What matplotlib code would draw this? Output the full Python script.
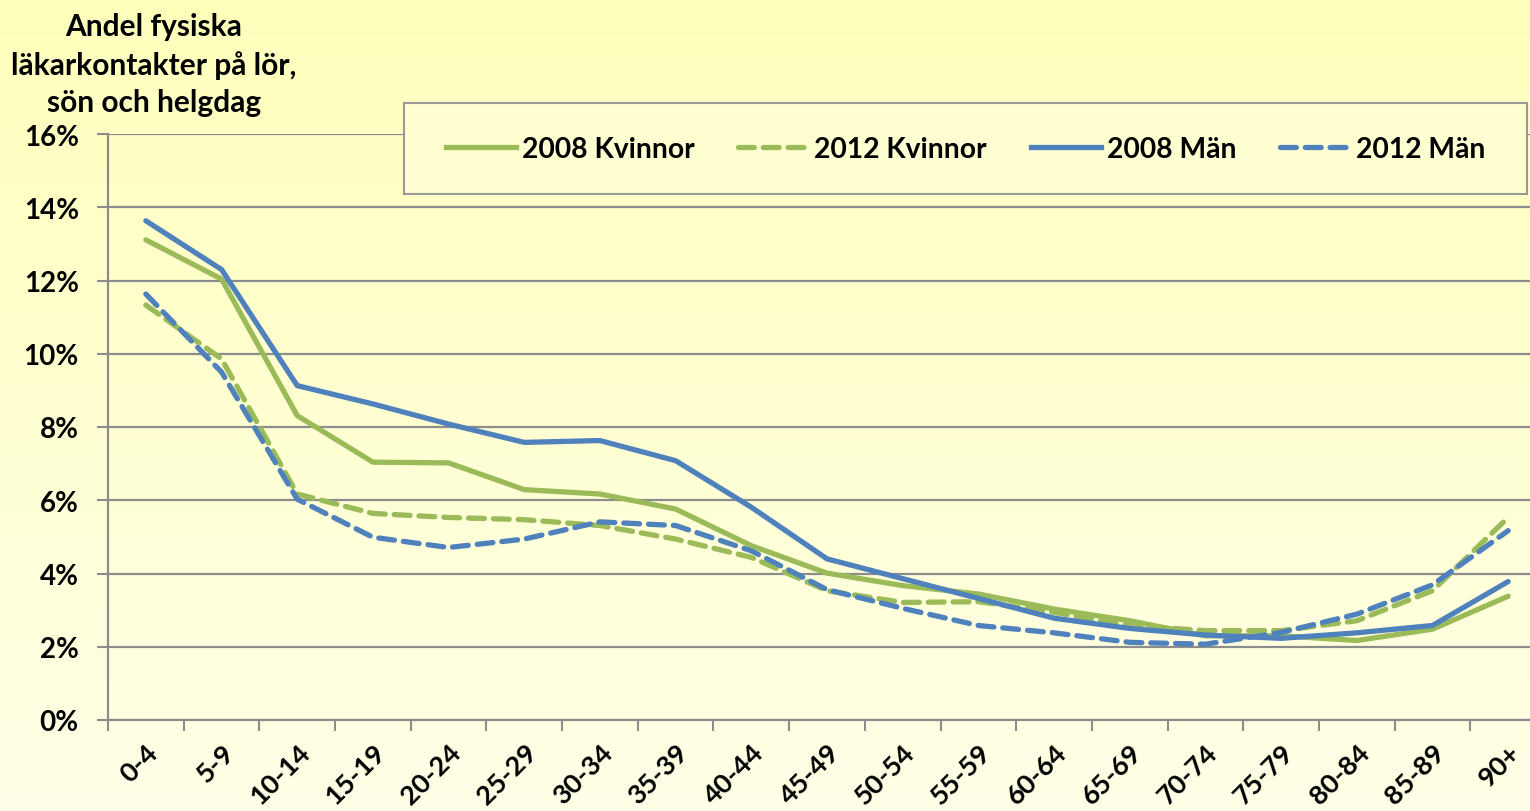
import numpy as np
import matplotlib
matplotlib.use("Agg")
import matplotlib.pyplot as plt
import matplotlib.transforms as mtransforms
from matplotlib.patches import Rectangle
from matplotlib.lines import Line2D

categories = ["0-4", "5-9", "10-14", "15-19", "20-24", "25-29", "30-34", "35-39",
              "40-44", "45-49", "50-54", "55-59", "60-64", "65-69", "70-74",
              "75-79", "80-84", "85-89", "90+"]

kvinnor_2008 = [13.11, 12.04, 8.31, 7.04, 7.02, 6.29, 6.17, 5.76, 4.76, 4.01,
                3.67, 3.44, 3.03, 2.71, 2.30, 2.30, 2.17, 2.48, 3.38]
kvinnor_2012 = [11.33, 9.86, 6.17, 5.64, 5.53, 5.47, 5.31, 4.94, 4.44, 3.53,
                3.21, 3.23, 2.94, 2.58, 2.44, 2.44, 2.71, 3.53, 5.53]
man_2008 = [13.63, 12.30, 9.13, 8.63, 8.08, 7.58, 7.63, 7.08, 5.81, 4.40,
            3.86, 3.32, 2.78, 2.50, 2.32, 2.23, 2.38, 2.58, 3.78]
man_2012 = [11.63, 9.50, 6.03, 4.99, 4.71, 4.94, 5.41, 5.31, 4.62, 3.56,
            3.05, 2.58, 2.38, 2.12, 2.07, 2.39, 2.89, 3.69, 5.17]

series_labels = ["2008 Kvinnor", "2012 Kvinnor", "2008 Män", "2012 Män"]
y_ticks = [0, 2, 4, 6, 8, 10, 12, 14, 16]
y_title = "Andel fysiska\nläkarkontakter på lör,\nsön och helgdag"

GREEN = "#9BBB59"
BLUE = "#4F81BD"
GRID = "#8C8C8C"
FONT = ["Lato", "DejaVu Sans"]

W, H = 1530, 812
fig = plt.figure(figsize=(W / 100, H / 100), dpi=100)

# background gradient
bg = fig.add_axes([0, 0, 1, 1], zorder=-10)
grad = np.linspace(0, 1, 256).reshape(-1, 1)
top = np.array([255, 255, 188]) / 255
bot = np.array([255, 255, 232]) / 255
img = top[None, None, :] * (1 - grad[:, :, None]) + bot[None, None, :] * grad[:, :, None]
bg.imshow(img, aspect="auto", extent=[0, 1, 0, 1])
bg.set_axis_off()

left_px, right_px, bottom_px, top_px = 108, 1546, 721, 135
ax = fig.add_axes([left_px / W, (H - bottom_px) / H,
                   (right_px - left_px) / W, (bottom_px - top_px) / H])
ax.set_facecolor("none")

x = np.arange(len(categories))
LW = 3.8
dash = (3.0, 1.7)
ax.plot(x, kvinnor_2008, color=GREEN, lw=LW, solid_capstyle="round", solid_joinstyle="round", zorder=3)
ax.plot(x, kvinnor_2012, color=GREEN, lw=LW, dashes=dash, dash_capstyle="round", zorder=3)
ax.plot(x, man_2008, color=BLUE, lw=LW, solid_capstyle="round", solid_joinstyle="round", zorder=4)
ax.plot(x, man_2012, color=BLUE, lw=LW, dashes=dash, dash_capstyle="round", zorder=4)

ax.set_xlim(-0.5, len(categories) - 0.5)
ax.set_ylim(0, 16)
ax.set_yticks(y_ticks)
ax.set_yticklabels([f"{v}%" for v in y_ticks], fontsize=20, fontweight="bold", family=FONT)
ax.set_xticks(x)
ax.set_xticklabels(categories, rotation=45, ha="right", rotation_mode="anchor",
                   fontsize=19.5, fontweight="bold", family=FONT)
offset = mtransforms.ScaledTranslation(-7 / 100, 0, fig.dpi_scale_trans)
for lbl in ax.get_xticklabels():
    lbl.set_transform(lbl.get_transform() + offset)
ax.set_xticks(np.arange(-0.5, len(categories), 1), minor=True)
ax.tick_params(axis="x", which="major", length=0, pad=14)
ax.tick_params(axis="x", which="minor", length=8, width=1.5, color=GRID)
ax.tick_params(axis="y", length=8, width=1.5, color=GRID, pad=13)
ax.grid(axis="y", color=GRID, lw=1.6)
for s in ["top", "right"]:
    ax.spines[s].set_visible(False)
for s in ["left", "bottom"]:
    ax.spines[s].set_color(GRID)
    ax.spines[s].set_linewidth(1.6)

fig.text(154 / W, 1 - 65 / H, y_title, ha="center", va="center", fontsize=21.5,
         fontweight="bold", family=FONT, linespacing=1.4)

# legend box
lx0, ly0, lx1, ly1 = 404, 104, 1527, 195
fig.patches.append(Rectangle((lx0 / W, 1 - ly1 / H), (lx1 - lx0) / W, (ly1 - ly0) / H,
                             transform=fig.transFigure, facecolor="#FFFFD2",
                             edgecolor="#9A9A9A", lw=1.5, zorder=5))
handles = [Line2D([], [], color=GREEN, lw=LW),
           Line2D([], [], color=GREEN, lw=LW, dashes=dash, dash_capstyle="round"),
           Line2D([], [], color=BLUE, lw=LW),
           Line2D([], [], color=BLUE, lw=LW, dashes=dash, dash_capstyle="round")]
leg = fig.legend(handles, series_labels, ncol=4, frameon=False,
                 loc="center", bbox_to_anchor=((lx0 + lx1) / 2 / W, 1 - 150 / H),
                 prop={"family": FONT, "weight": "bold", "size": 20.3},
                 handlelength=2.5, handletextpad=0.2, columnspacing=1.55)
leg.set_zorder(6)

fig.savefig("out.png", dpi=100)
